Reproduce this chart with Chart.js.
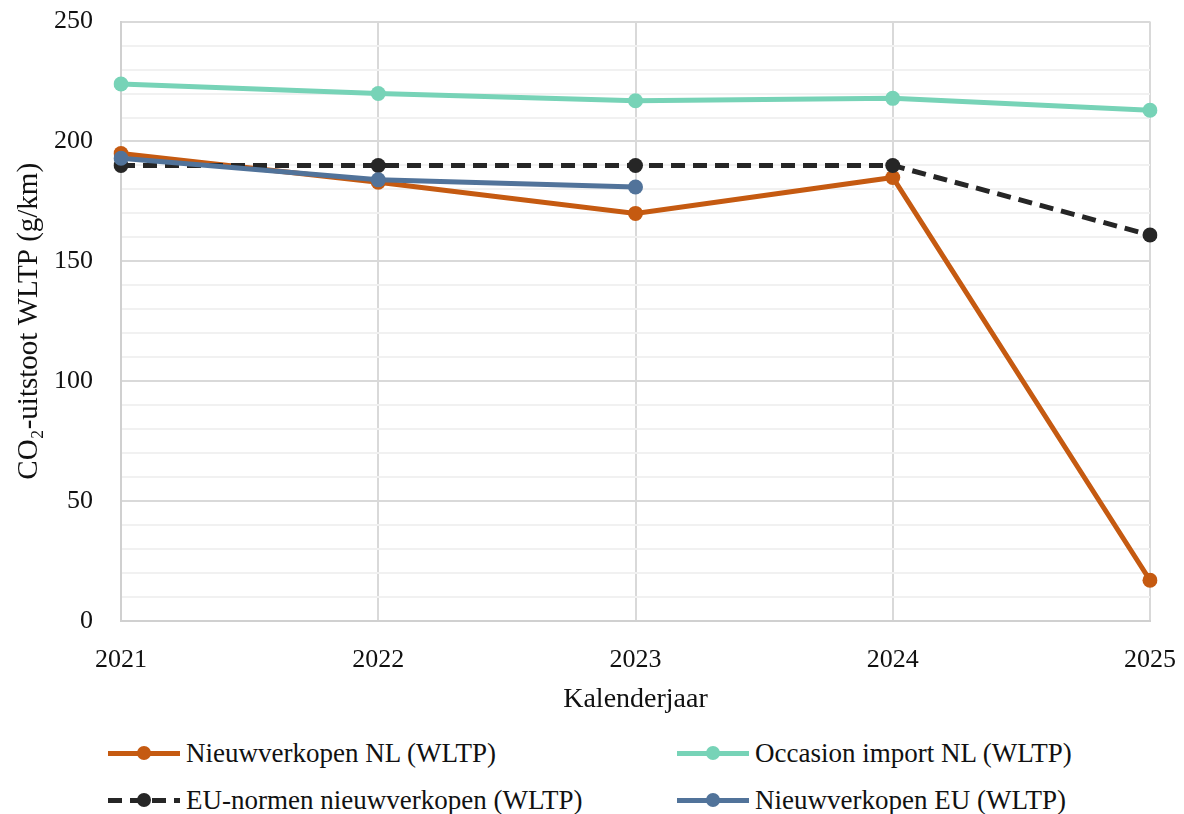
<!DOCTYPE html>
<html>
<head>
<meta charset="utf-8">
<script src="https://cdn.jsdelivr.net/npm/chart.js@4"></script>
<style>
  html, body { margin: 0; padding: 0; background: #fff; overflow: hidden; }
  #wrap { position: relative; width: 1184px; height: 814px; overflow: hidden; }
  #chart-co2 { position: absolute; left: 0; top: -22px; }
  #legend { position: absolute; left: 0; top: 728px; width: 1184px; font-family: "Liberation Serif", serif; font-size: 27px; line-height: 28px; color: #111; }
  .item { position: absolute; display: flex; align-items: center; white-space: nowrap; }
  .sym { position: relative; width: 72px; height: 14px; margin-right: 6px; }
  .sym .ln { position: absolute; left: 0; right: 0; top: 5px; height: 5px; }
  .sym .dot { position: absolute; left: 29px; top: 0; width: 14px; height: 14px; border-radius: 50%; }
</style>
</head>
<body>
<div id="wrap">
  <canvas id="chart-co2" width="1200" height="747"></canvas>
  <div id="legend"></div>
</div>
<script>
var jaren = ['2021', '2022', '2023', '2024', '2025'];
var nieuwNL = [195, 183, 170, 185, 17];
var occasionNL = [224, 220, 217, 218, 213];
var euNormen = [190, 190, 190, 190, 161];
var nieuwEU = [193, 184, 181, null, null];

var kleuren = ['#C55A11', '#77D3B7', '#262626', '#51739A'];
var namen = ['Nieuwverkopen NL (WLTP)', 'Occasion import NL (WLTP)', 'EU-normen nieuwverkopen (WLTP)', 'Nieuwverkopen EU (WLTP)'];

var fontFam = '"Liberation Serif", serif';

function serie(i, values, dashed) {
    return {
        label: namen[i],
        data: values,
        borderColor: kleuren[i],
        backgroundColor: kleuren[i],
        borderWidth: 5,
        borderDash: dashed ? [14, 8] : [],
        pointRadius: 7.5,
        pointHoverRadius: 7.5,
        pointBorderWidth: 0,
        tension: 0,
        spanGaps: false,
        order: 4 - i
    };
}

document.addEventListener("DOMContentLoaded", function() {
    var ctx = document.getElementById("chart-co2").getContext('2d');

    var data = {
        labels: jaren,
        datasets: [
            serie(0, nieuwNL, false),
            serie(1, occasionNL, false),
            serie(2, euNormen, true),
            serie(3, nieuwEU, false)
        ]
    };

    var chartOptions = {
        responsive: false,
        animation: false,
        layout: { padding: { top: 2, right: 19, left: 0, bottom: 0 } },
        plugins: {
            legend: { display: false },
            tooltip: { enabled: false }
        },
        scales: {
            x: {
                offset: false,
                grid: { color: '#d9d9d9', lineWidth: 2, drawTicks: false },
                border: { color: '#d0d0d0', width: 2 },
                ticks: { padding: 24, color: '#111', font: { family: fontFam, size: 26 }, maxRotation: 0 },
                title: { display: true, text: 'Kalenderjaar', color: '#111', font: { family: fontFam, size: 28 }, padding: { top: 0, bottom: 9 } },
                afterFit: function(scale) { scale.height = 104; }
            },
            y: {
                min: 0,
                max: 250,
                ticks: {
                    stepSize: 10,
                    padding: 28,
                    color: '#111',
                    autoSkip: false,
                    font: { family: fontFam, size: 26 },
                    callback: function(v) { return v % 50 === 0 ? v : ''; }
                },
                grid: {
                    drawTicks: false,
                    lineWidth: 2,
                    color: function(c) { return c.tick && c.tick.value % 50 === 0 ? '#d9d9d9' : '#f1f1f1'; }
                },
                border: { color: '#d0d0d0', width: 2 },
                title: { display: true, text: 'CO₂-uitstoot WLTP (g/km)', color: '#111', font: { family: fontFam, size: 29 }, padding: { top: 12, bottom: 0 } },
                afterFit: function(scale) { scale.width = 121; }
            }
        }
    };

    var myChart = new Chart(ctx, {
        type: 'line',
        data: data,
        options: chartOptions
    });

    // legende in twee kolommen, zoals in het origineel
    var posities = [[108, 11], [677, 11], [108, 58], [677, 58]];
    var legend = document.getElementById('legend');
    for (var i = 0; i < namen.length; i++) {
        var item = document.createElement('div');
        item.className = 'item';
        item.style.left = posities[i][0] + 'px';
        item.style.top = posities[i][1] + 'px';
        var lijn;
        if (i === 2) {
            lijn = '<div class="ln" style="background: repeating-linear-gradient(90deg,' + kleuren[i] + ' 0 14px, transparent 14px 22px);"></div>';
        } else {
            lijn = '<div class="ln" style="background:' + kleuren[i] + '"></div>';
        }
        item.innerHTML = '<div class="sym">' + lijn + '<div class="dot" style="background:' + kleuren[i] + '"></div></div><span>' + namen[i] + '</span>';
        legend.appendChild(item);
    }
});
</script>
</body>
</html>
